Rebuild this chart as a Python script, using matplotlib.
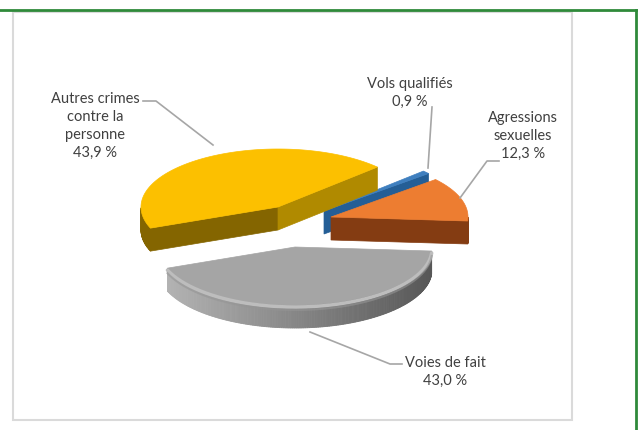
import numpy as np
import matplotlib.pyplot as plt
from matplotlib.patches import Polygon, Rectangle

# data
categories = ['Vols qualifiés', 'Agressions\nsexuelles', 'Voies de fait',
              'Autres crimes\ncontre la\npersonne']
values = [0.9, 12.3, 43.0, 43.9]
top_colors = ['#3f7fbf', '#ed7d31', '#a5a5a5', '#fcc000']
wall_colors = ['#245e96', '#843c12', '#7a7a7a', '#b08a00']
side_colors = ['#245e96', '#843c12', '#6a6a6a', '#846500']

# pseudo 3D layout (pixels)
start_angle = 43.5
a, b, depth = 137, 58, 23
centers = [(324, 211), (331, 217), (295, 247), (278, 207)]

fig = plt.figure(figsize=(6.39, 4.30), dpi=100)
ax = fig.add_axes([0, 0, 1, 1])
ax.set_xlim(0, 639)
ax.set_ylim(430, 0)
ax.axis('off')

# frames
ax.add_patch(Rectangle((13, 12), 559, 408, fill=False, ec='#dadada', lw=1.5))
ax.plot([0, 636], [10, 10], color='#2f8a3a', lw=2)
ax.plot([636, 636], [10, 430], color='#2f8a3a', lw=2)


def pt(c, t):
    return c[0] + a * np.cos(np.radians(t)), c[1] - b * np.sin(np.radians(t))


angles = start_angle - np.cumsum([0] + [v / sum(values) * 360 for v in values])

for i in range(len(values)):
    c = centers[i]
    t1, t2 = angles[i], angles[i + 1]  # t1 > t2, clockwise
    # radial faces
    for t, normal in ((t1, t1 + 90), (t2, t2 - 90)):
        if np.sin(np.radians(normal)) < 0:
            p = pt(c, t)
            col = wall_colors[i] if t == t2 else side_colors[i]
            ax.add_patch(Polygon([c, p, (p[0], p[1] + depth), (c[0], c[1] + depth)],
                                 closed=True, fc=col, ec=col, lw=0.5))
    # outer wall (front half)
    ts = np.linspace(t2, t1, 200)
    ts = ts[np.sin(np.radians(ts)) < 0]
    if len(ts) > 1:
        n = len(ts)
        for j in range(n - 1):
            seg = [ts[j], ts[j + 1]]
            p1, p2 = pt(c, seg[0]), pt(c, seg[1])
            if i == 2:
                f = 0.62 + 0.22 * (-np.cos(np.radians(seg[0])))
                col = (f * 0.85, f * 0.85, f * 0.85)
            else:
                col = side_colors[i]
            ax.add_patch(Polygon([p1, p2, (p2[0], p2[1] + depth), (p1[0], p1[1] + depth)],
                                 closed=True, fc=col, ec=col, lw=0.6))
    # top face
    tt = np.linspace(t1, t2, 200)
    xs, ys = pt(c, tt)
    ax.add_patch(Polygon(np.vstack([[c], np.column_stack([xs, ys])]),
                         closed=True, fc=top_colors[i], ec=top_colors[i], lw=0.5))
    if i == 2:
        # soft bevel on the grey slice
        front = np.sin(np.radians(tt)) < 0
        ax.plot(xs[front], ys[front] + 2, color='#bdbdbd', lw=2.5, solid_capstyle='round')
        ax.plot(xs[front], ys[front] + 5, color='#959595', lw=1.5, alpha=0.6)

# labels with leader lines
labels = [c + '\n' + f'{v:.1f}'.replace('.', ',') + ' %' for c, v in zip(categories, values)]
label_pos = [(410, 93), (523, 136), (445, 372), (95, 126)]
leaders = [
    ([432, 428], [107, 168]),
    ([499, 487, 460], [161, 161, 198]),
    ([402, 390, 310], [364, 364, 332]),
    ([143, 156, 213], [101, 101, 145]),
]
for lab, (x, y), (lx, ly) in zip(labels, label_pos, leaders):
    ax.plot(lx, ly, color='#a6a6a6', lw=1.2)
    ax.text(x, y, lab, ha='center', va='center', fontsize=10.5, family='Lato',
            color='#404040', linespacing=1.35)

plt.savefig('out.png', dpi=100)
